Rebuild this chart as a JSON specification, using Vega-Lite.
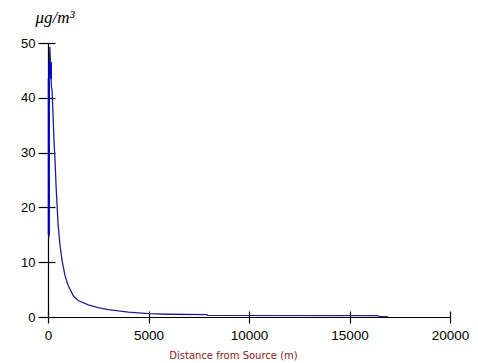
{
  "$schema": "https://vega.github.io/schema/vega-lite/v6.json",
  "width": 402,
  "height": 274,
  "autosize": "none",
  "padding": {"left": 48, "top": 43, "right": 28, "bottom": 46},
  "background": "white",
  "config": {"view": {"stroke": null}},
  "data": {"values": [
    {"i": 0, "d": 50, "v": 14.6, "part": "main"},
    {"i": 1, "d": 50, "v": 43.5, "part": "main"},
    {"i": 2, "d": 90, "v": 49.3, "part": "main"},
    {"i": 3, "d": 140, "v": 45, "part": "main"},
    {"i": 4, "d": 170, "v": 42, "part": "main"},
    {"i": 5, "d": 200, "v": 41.5, "part": "main"},
    {"i": 6, "d": 250, "v": 37, "part": "main"},
    {"i": 7, "d": 300, "v": 32, "part": "main"},
    {"i": 8, "d": 350, "v": 28.6, "part": "main"},
    {"i": 9, "d": 400, "v": 24, "part": "main"},
    {"i": 10, "d": 500, "v": 17, "part": "main"},
    {"i": 11, "d": 600, "v": 13, "part": "main"},
    {"i": 12, "d": 700, "v": 10.3, "part": "main"},
    {"i": 13, "d": 850, "v": 7.5, "part": "main"},
    {"i": 14, "d": 1000, "v": 5.8, "part": "main"},
    {"i": 15, "d": 1250, "v": 3.9, "part": "main"},
    {"i": 16, "d": 1500, "v": 3.0, "part": "main"},
    {"i": 17, "d": 2000, "v": 2.2, "part": "main"},
    {"i": 18, "d": 2500, "v": 1.7, "part": "main"},
    {"i": 19, "d": 3000, "v": 1.35, "part": "main"},
    {"i": 20, "d": 3500, "v": 1.1, "part": "main"},
    {"i": 21, "d": 4000, "v": 0.9, "part": "main"},
    {"i": 22, "d": 5000, "v": 0.6, "part": "main"},
    {"i": 23, "d": 6000, "v": 0.5, "part": "main"},
    {"i": 24, "d": 7900, "v": 0.45, "part": "main"},
    {"i": 25, "d": 7950, "v": 0.3, "part": "main"},
    {"i": 26, "d": 16400, "v": 0.25, "part": "main"},
    {"i": 27, "d": 16450, "v": 0.12, "part": "main"},
    {"i": 28, "d": 16900, "v": 0.05, "part": "main"},
    {"i": 0, "d": 40, "v": 15, "part": "spike"},
    {"i": 1, "d": 40, "v": 43.5, "part": "spike"},
    {"i": 2, "d": 120, "v": 43.5, "part": "spike2"},
    {"i": 3, "d": 120, "v": 46.5, "part": "spike2"}
  ]},
  "layer": [
    {
      "mark": {"type": "line", "strokeJoin": "miter"},
      "encoding": {
        "x": {"field": "d", "type": "quantitative",
          "scale": {"domain": [0, 20000], "nice": false},
          "axis": {"values": [0, 5000, 10000, 15000, 20000], "format": "d", "grid": false,
            "domainColor": "black", "domainWidth": 1.2, "tickColor": "black", "tickWidth": 1.2, "tickSize": 6,
            "labelFont": "Liberation Sans", "labelFontSize": 13.5, "labelColor": "black", "labelPadding": 5,
            "labelFlush": false,
            "title": "Distance from Source (m)", "titleFont": "DejaVu Sans", "titleFontSize": 10,
            "titleFontWeight": "normal", "titleColor": "#8b2020", "titlePadding": 9,
            "titleX": 185, "titleAlign": "center"}},
        "y": {"field": "v", "type": "quantitative",
          "scale": {"domain": [0, 50], "nice": false},
          "axis": {"values": [0, 10, 20, 30, 40, 50], "grid": false,
            "domainColor": "black", "domainWidth": 1.2, "tickColor": "black", "tickWidth": 1.2, "tickSize": 10,
            "labelFont": "Liberation Sans", "labelFontSize": 13, "labelColor": "black", "labelPadding": 3,
            "labelFlush": false,
            "title": "μg/m³", "titleAngle": 0, "titleX": -13, "titleY": -26, "titleAlign": "left",
            "titleBaseline": "middle",
            "titleFont": "Liberation Serif", "titleFontStyle": "italic", "titleFontSize": 17,
            "titleFontWeight": "normal", "titleColor": "black"}},
        "order": {"field": "i", "type": "quantitative"},
        "detail": {"field": "part"},
        "color": {"field": "part", "type": "nominal", "legend": null,
          "scale": {"domain": ["main", "spike", "spike2"], "range": ["#20208a", "#0000c8", "#0000e0"]}},
        "strokeWidth": {"field": "part", "type": "nominal", "legend": null,
          "scale": {"domain": ["main", "spike", "spike2"], "range": [1.3, 3, 1.8]}}
      }
    },
    {
      "mark": {"type": "line", "opacity": 0},
      "encoding": {
        "x": {"field": "d", "type": "quantitative",
          "axis": {"orient": "bottom", "values": [0, 5000, 10000, 15000, 20000], "grid": false,
            "domain": false, "labels": false, "title": null,
            "tickColor": "black", "tickWidth": 1.2, "tickSize": -6}},
        "y": {"field": "v", "type": "quantitative",
          "axis": {"orient": "left", "values": [0, 10, 20, 30, 40, 50], "grid": false,
            "domain": false, "labels": false, "title": null,
            "tickColor": "black", "tickWidth": 1.2, "tickSize": -7}}
      }
    }
  ],
  "resolve": {"axis": {"x": "independent", "y": "independent"}}
}
